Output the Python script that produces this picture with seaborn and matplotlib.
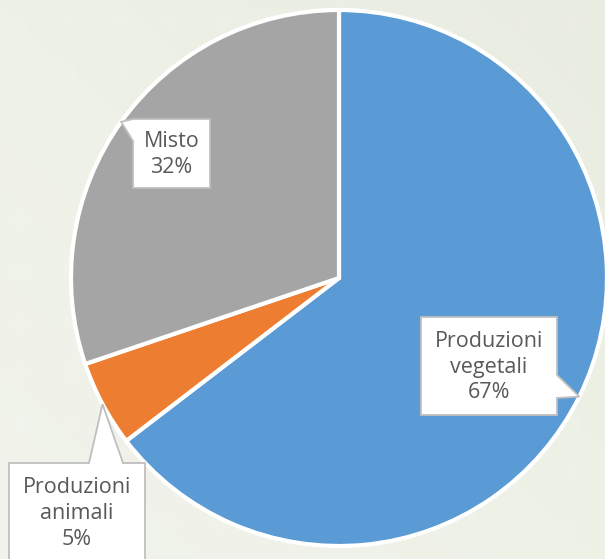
import numpy as np
import matplotlib
matplotlib.use("Agg")
import matplotlib.pyplot as plt
from matplotlib.patches import Polygon, Circle
from matplotlib.colors import LinearSegmentedColormap
import seaborn as sns

# ---- data ----
categories = ["Produzioni vegetali", "Produzioni animali", "Misto"]
values = [64.6, 5.2, 30.2]          # wedge sizes as drawn
label_texts = ["Produzioni\nvegetali\n67%", "Produzioni\nanimali\n5%", "Misto\n32%"]
colors = ["#5B9BD5", "#ED7D31", "#A5A5A5"]

sns.set_theme(style="white")
plt.rcParams['font.family'] = ['Open Sans', 'DejaVu Sans']

W, H = 605, 559
BG = "#EEF1E6"
fig = plt.figure(figsize=(W / 100, H / 100), dpi=100, facecolor=BG)
ax = fig.add_axes([0, 0, 1, 1])
ax.set_facecolor(BG)

# soft background gradient
gx, gy = np.meshgrid(np.linspace(0, 1, 200), np.linspace(0, 1, 200))
grad = np.clip((gx + (1 - gy)) / 2, 0, 1)  # 0 at top-left, 1 at bottom-right
cmap = LinearSegmentedColormap.from_list("bg", ["#F2F4EC", "#EEF1E6", "#E9ECE0"])
ax.imshow(grad, cmap=cmap, extent=(0, W, 0, H), origin="upper", zorder=0, aspect="auto")

# faint decorative dots
for xx in np.arange(20, W, 50.3):
    for yy in np.arange(22, H, 50):
        ax.add_patch(Circle((xx, H - yy), 8, facecolor="white", edgecolor="none",
                            alpha=0.10, zorder=0.5))

cx, cy, R = 339, H - 278, 268
wedges, _ = ax.pie(values, colors=colors, startangle=90, counterclock=False,
                   center=(cx, cy), radius=R,
                   wedgeprops=dict(edgecolor="white", linewidth=3, zorder=2))
ax.set_xlim(0, W)
ax.set_ylim(0, H)
ax.set_aspect("equal")
ax.axis("off")

def Y(y):
    return H - y

# box rects (left, top, right, bottom) in pixel coords from top, and pointer side
boxes = {
    0: dict(rect=(421, 317, 557, 415), side="right", base=(375, 398)),
    1: dict(rect=(9, 463, 145, 562), side="top", base=(89, 123)),
    2: dict(rect=(133, 119, 210, 188), side="left", base=(119, 141)),
}

for i, w in enumerate(wedges):
    mid = np.deg2rad((w.theta1 + w.theta2) / 2)
    tx, ty = cx + R * np.cos(mid), cy + R * np.sin(mid)
    b = boxes[i]
    l, t, r, bt = b["rect"]
    b0, b1 = b["base"]
    if b["side"] == "right":
        pts = [(l, Y(t)), (r, Y(t)), (r, Y(b0)), (tx, ty), (r, Y(b1)), (r, Y(bt)), (l, Y(bt))]
    elif b["side"] == "left":
        pts = [(l, Y(t)), (r, Y(t)), (r, Y(bt)), (l, Y(bt)), (l, Y(b1)), (tx, ty), (l, Y(b0))]
    else:
        pts = [(l, Y(t)), (b0, Y(t)), (tx, ty), (b1, Y(t)), (r, Y(t)), (r, Y(bt)), (l, Y(bt))]
    ax.add_patch(Polygon(pts, closed=True, facecolor="white", edgecolor="#BFBFBF",
                         linewidth=1.3, zorder=5))
    ax.text((l + r) / 2, Y((t + bt) / 2) - 1, label_texts[i], ha="center", va="center",
            fontsize=15.5, color="#595959", linespacing=1.3, zorder=6)

fig.savefig("out.png", dpi=100, facecolor=BG)
